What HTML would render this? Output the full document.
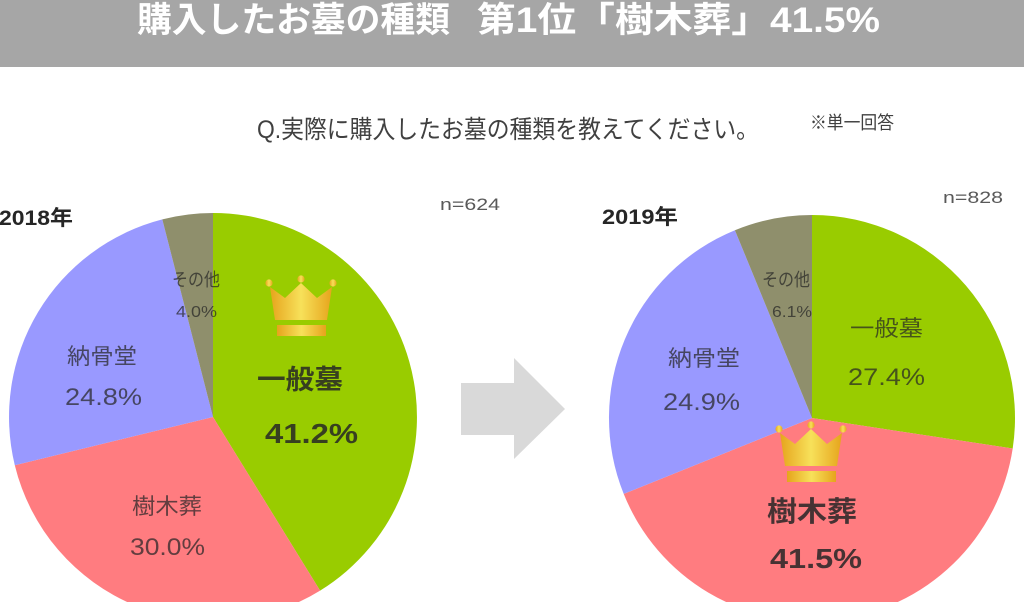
<!DOCTYPE html>
<html>
<head>
<meta charset="utf-8">
<style>
html,body{margin:0;padding:0;background:#fff;}
svg{display:block;}
text{font-family:"Liberation Sans","Noto Sans CJK JP",sans-serif;}
</style>
</head>
<body>
<svg width="1024" height="602" viewBox="0 0 1024 602" xmlns="http://www.w3.org/2000/svg">
<defs>
<linearGradient id="gold" x1="0" y1="0" x2="1" y2="0">
<stop offset="0" stop-color="#e6a41c"/>
<stop offset="0.5" stop-color="#f7e15a"/>
<stop offset="1" stop-color="#e6a41c"/>
</linearGradient>
<g id="crown">
<circle cx="269" cy="283" r="3.6" fill="url(#gold)"/>
<circle cx="301" cy="279" r="3.6" fill="url(#gold)"/>
<circle cx="333" cy="283" r="3.6" fill="url(#gold)"/>
<polygon points="270,287 285,298 301,283 317,298 332,287 327,320 275,320" fill="url(#gold)"/>
<rect x="277" y="325" width="49" height="11" fill="url(#gold)"/>
</g>
</defs>
<rect x="0" y="0" width="1024" height="602" fill="#fff"/>
<!-- header -->
<rect x="0" y="0" width="1024" height="67" fill="#a6a6a6"/>
<text x="137" y="32" font-size="35" font-weight="bold" fill="#fff" textLength="313" lengthAdjust="spacingAndGlyphs">購入したお墓の種類</text>
<text x="477" y="32" font-size="35" font-weight="bold" fill="#fff" textLength="403" lengthAdjust="spacingAndGlyphs">第1位「樹木葬」41.5%</text>
<!-- question -->
<text x="257" y="138" font-size="25" fill="#404040" textLength="502" lengthAdjust="spacingAndGlyphs">Q.実際に購入したお墓の種類を教えてください。</text>
<text x="810" y="129" font-size="18" fill="#404040" textLength="84" lengthAdjust="spacingAndGlyphs">※単一回答</text>

<!-- left pie -->
<path d="M213,417 L213,213 A204,204 0 0 1 320.1,590.6 Z" fill="#99cc00"/>
<path d="M213,417 L320.1,590.6 A204,204 0 0 1 14.8,465.2 Z" fill="#ff7c80"/>
<path d="M213,417 L14.8,465.2 A204,204 0 0 1 162.3,219.4 Z" fill="#9999ff"/>
<path d="M213,417 L162.3,219.4 A204,204 0 0 1 213,213 Z" fill="#8f8f6c"/>

<!-- right pie -->
<path d="M812,418 L812,215 A203,203 0 0 1 1012.7,448.5 Z" fill="#99cc00"/>
<path d="M812,418 L1012.7,448.5 A203,203 0 0 1 623.7,493.9 Z" fill="#ff7c80"/>
<path d="M812,418 L623.7,493.9 A203,203 0 0 1 734.9,230.2 Z" fill="#9999ff"/>
<path d="M812,418 L734.9,230.2 A203,203 0 0 1 812,215 Z" fill="#8f8f6c"/>

<!-- arrow -->
<polygon points="461,383 514,383 514,358 565,409 514,459 514,435 461,435" fill="#d9d9d9"/>

<!-- crowns -->
<use href="#crown"/>
<use href="#crown" transform="translate(510,146)"/>

<!-- left labels -->
<text x="-1" y="225" font-size="21" font-weight="bold" fill="#262626" textLength="74" lengthAdjust="spacingAndGlyphs">2018年</text>
<text x="440" y="210" font-size="17" fill="#595959" textLength="60" lengthAdjust="spacingAndGlyphs">n=624</text>
<g fill="#262626" fill-opacity="0.72">
<text x="172" y="286" font-size="18" textLength="48" lengthAdjust="spacingAndGlyphs">その他</text>
<text x="176" y="317" font-size="16" textLength="41" lengthAdjust="spacingAndGlyphs">4.0%</text>
<text x="67" y="364" font-size="22" textLength="70" lengthAdjust="spacingAndGlyphs">納骨堂</text>
<text x="65" y="405" font-size="24" textLength="77" lengthAdjust="spacingAndGlyphs">24.8%</text>
<text x="132" y="514" font-size="22" textLength="70" lengthAdjust="spacingAndGlyphs">樹木葬</text>
<text x="130" y="555" font-size="24" textLength="75" lengthAdjust="spacingAndGlyphs">30.0%</text>
</g>
<g fill="#262626" fill-opacity="0.85" font-weight="bold">
<text x="257" y="389" font-size="27" textLength="86" lengthAdjust="spacingAndGlyphs">一般墓</text>
<text x="265" y="443" font-size="28" textLength="93" lengthAdjust="spacingAndGlyphs">41.2%</text>
</g>

<!-- right labels -->
<text x="602" y="224" font-size="21" font-weight="bold" fill="#262626" textLength="76" lengthAdjust="spacingAndGlyphs">2019年</text>
<text x="943" y="203" font-size="17" fill="#595959" textLength="60" lengthAdjust="spacingAndGlyphs">n=828</text>
<g fill="#262626" fill-opacity="0.72">
<text x="762" y="286" font-size="18" textLength="48" lengthAdjust="spacingAndGlyphs">その他</text>
<text x="772" y="317" font-size="16" textLength="40" lengthAdjust="spacingAndGlyphs">6.1%</text>
<text x="850" y="336" font-size="22" textLength="73" lengthAdjust="spacingAndGlyphs">一般墓</text>
<text x="848" y="385" font-size="24" textLength="77" lengthAdjust="spacingAndGlyphs">27.4%</text>
<text x="668" y="366" font-size="22" textLength="72" lengthAdjust="spacingAndGlyphs">納骨堂</text>
<text x="663" y="410" font-size="24" textLength="77" lengthAdjust="spacingAndGlyphs">24.9%</text>
</g>
<g fill="#262626" fill-opacity="0.85" font-weight="bold">
<text x="767" y="521" font-size="28" textLength="90" lengthAdjust="spacingAndGlyphs">樹木葬</text>
<text x="770" y="568" font-size="28" textLength="92" lengthAdjust="spacingAndGlyphs">41.5%</text>
</g>
</svg>
</body>
</html>
